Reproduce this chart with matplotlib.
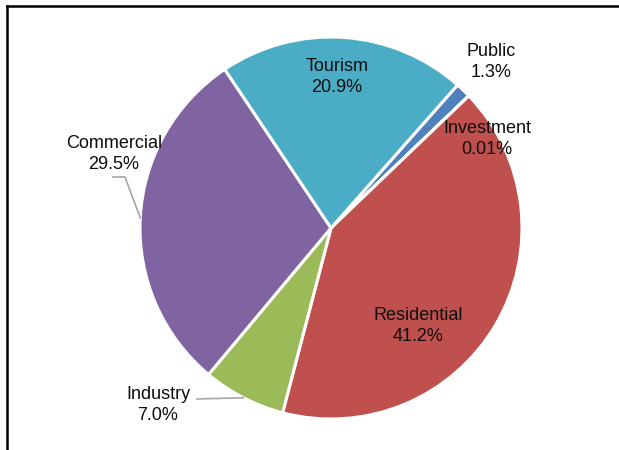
import numpy as np
import matplotlib
matplotlib.use("Agg")
import matplotlib.pyplot as plt
from matplotlib.lines import Line2D

plt.rcParams['font.family'] = ['Liberation Sans', 'DejaVu Sans']

# data, clockwise from the first slice
sectors = ['Public', 'Investment', 'Residential', 'Industry', 'Commercial', 'Tourism']
shares = [1.3, 0.01, 41.2, 7.0, 29.5, 20.9]
share_labels = ['1.3%', '0.01%', '41.2%', '7.0%', '29.5%', '20.9%']
colors = ['#4F81BD', '#F79646', '#C0504D', '#9BBB59', '#8064A2', '#4BACC6']

W, H = 619, 450
fig = plt.figure(figsize=(W / 100, H / 100), dpi=100)
ax = fig.add_axes([0, 0, 1, 1])

cx, cy, r = 331, H - 228, 191
wedges, _ = ax.pie(shares, colors=colors, startangle=48.5, counterclock=False,
                   center=(cx, cy), radius=r, frame=True,
                   wedgeprops=dict(edgecolor='white', linewidth=2.2))
ax.set_xlim(0, W)
ax.set_ylim(0, H)
ax.set_aspect('equal')
ax.axis('off')

# label positions (pixel space, y from top) and optional leader elbow
label_pos = {
    'Public': (491, 62),
    'Investment': (487, 139),
    'Residential': (418, 326),
    'Industry': (158, 405),
    'Commercial': (114, 154),
    'Tourism': (337, 77),
}
elbows = {
    'Commercial': [(113, 177), (125, 177)],
    'Industry': [(197, 399)],
}

for w, name, txt in zip(wedges, sectors, share_labels):
    x, y = label_pos[name]
    ax.text(x, H - y, name + '\n' + txt, ha='center', va='center',
            fontsize=13, color='#0d0d0d', linespacing=1.35)
    if name in elbows:
        mid = np.deg2rad((w.theta1 + w.theta2) / 2)
        end = (cx + r * np.cos(mid), cy + r * np.sin(mid))
        pts = [(px, H - py) for px, py in elbows[name]] + [end]
        ax.plot([p[0] for p in pts], [p[1] for p in pts], color='#A6A6A6', lw=1.2)

# partial chart border
fig.add_artist(Line2D([7 / W, 1], [1 - 6 / H, 1 - 6 / H], color='black', lw=1.8,
                      transform=fig.transFigure))
fig.add_artist(Line2D([7 / W, 7 / W], [0, 1 - 6 / H], color='black', lw=1.8,
                      transform=fig.transFigure))

fig.savefig('out.png', dpi=100, facecolor='white')
